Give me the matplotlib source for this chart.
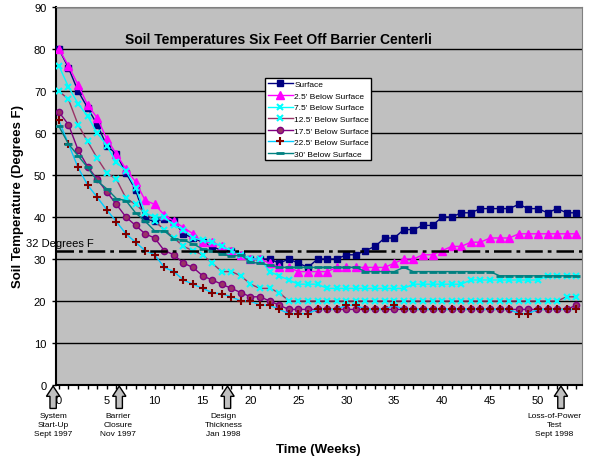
import matplotlib
matplotlib.use("Agg")
import matplotlib.pyplot as plt
import matplotlib.transforms as mtransforms
from matplotlib.patches import Polygon
import numpy as np

plt.rcParams['font.family'] = ['Liberation Sans', 'DejaVu Sans']

# weeks since start-up
weeks = list(range(0, 55))

surface = [80, 75.5, 70, 66, 62, 57, 55, 50.5, 46.5, 39.5, 39, 39.5, 39, 36, 35,
           34, 33, 32, 32, 31, 30, 30, 30, 29, 30, 29, 28, 30, 30, 30,
           31, 31, 32, 33, 35, 35, 37, 37, 38, 38, 40, 40, 41, 41, 42,
           42, 42, 42, 43, 42, 42, 41, 42, 41, 41]
d2_5 = [80, 76, 71.5, 66.7, 63.6, 58.6, 55, 51.4, 48.4, 44, 43, 40.5, 39, 37.5, 36,
        34, 34, 33, 32, 31, 30, 30, 29, 28, 28, 27, 27, 27, 27, 28,
        28, 28, 28, 28, 28, 29, 30, 30, 31, 31, 32, 33, 33, 34, 34,
        35, 35, 35, 36, 36, 36, 36, 36, 36, 36]
d7_5 = [76, 71, 67, 64, 60, 57, 53, 51, 47, 41, 40, 40, 38, 37, 35,
        34.5, 34, 33, 32, 31, 30, 30, 27, 26, 25, 24, 24, 24, 23, 23,
        23, 23, 23, 23, 23, 23, 23, 24, 24, 24, 24, 24, 24, 25, 25,
        25, 25, 25, 25, 25, 25, 26, 26, 26, 26]
d12_5 = [70, 68, 62, 58, 54, 50.5, 49, 44.5, 43, 41, 39, 37, 35, 33, 32,
         31, 29, 27, 27, 26, 24, 23, 23, 22, 20, 20, 20, 20, 20, 20,
         20, 20, 20, 20, 20, 20, 20, 20, 20, 20, 20, 20, 20, 20, 20,
         20, 20, 20, 20, 20, 20, 20, 20, 21, 21]
d17_5 = [65, 62, 56, 52, 49, 46, 43, 40, 38, 36, 35, 32, 31, 29, 28,
         26, 25, 24, 23, 22, 21, 21, 20, 19, 18, 18, 18, 18, 18, 18,
         18, 18, 18, 18, 18, 18, 18, 18, 18, 18, 18, 18, 18, 18, 18,
         18, 18, 18, 18, 18, 18, 18, 18, 18, 19]
d22_5 = [63, 57.4, 51.8, 47.6, 44.7, 41.7, 38.9, 36, 34, 32, 31, 28, 27, 25, 24,
         23, 22, 21.7, 21, 20, 20, 19, 19, 18, 17, 17, 17, 18, 18, 18,
         19, 19, 18, 18, 18, 19, 18, 18, 18, 18, 18, 18, 18, 18, 18,
         18, 18, 18, 17, 17, 18, 18, 18, 18, 18]
d30 = [61.6, 57.4, 54.6, 51.8, 48.6, 46.7, 44.4, 43.9, 41, 39, 36.7, 36.7, 34.8, 34.5, 33.6,
       32.4, 32, 31.2, 30.6, 31, 29.2, 29, 28.5, 28, 28, 28, 28, 28, 28, 28,
       28, 28, 27, 27, 27, 27, 28, 27, 27, 27, 27, 27, 27, 27, 27,
       27, 26, 26, 26, 26, 26, 26, 26, 26, 26]

series_names = ["Surface", "2.5' Below Surface", "7.5' Below Surface", "12.5' Below Surface",
                "17.5' Below Surface", "22.5' Below Surface", "30' Below Surface"]

event_weeks = [-0.6, 6.3, 17.6, 52.4]
event_text_weeks = [-0.6, 6.2, 17.2, 51.7]
event_labels = ["System\nStart-Up\nSept 1997", "Barrier\nClosure\nNov 1997",
                "Design\nThickness\nJan 1998", "Loss-of-Power\nTest\nSept 1998"]

fig = plt.figure(figsize=(5.89, 4.60), dpi=100)
ax = fig.add_axes([56 / 589, 1 - 386 / 460, (582 - 56) / 589, (386 - 8) / 460])
ax.set_facecolor('#c0c0c0')

styles = [
    dict(color='#000080', marker='s', ms=4.5, mfc='#000080', mec='#000080'),
    dict(color='#ff00ff', marker='^', ms=5.5, mfc='#ff00ff', mec='#ff00ff'),
    dict(color='#00ffff', marker='x', ms=5, mew=1.5, mec='#00ffff'),
    dict(color='#993366', marker='x', ms=5, mew=1.5, mec='#00ffff'),
    dict(color='#800080', marker='o', ms=4.5, mfc='#993366', mec='#800080'),
    dict(color='#00ccff', marker='+', ms=6, mew=1.5, mec='#800000'),
    dict(color='#008080', marker='_', ms=6, mew=2, mec='#008080'),
]
all_series = [surface, d2_5, d7_5, d12_5, d17_5, d22_5, d30]
for vals, name, st in zip(all_series, series_names, styles):
    ax.plot(weeks, vals, lw=1, label=name, zorder=3, **st)

# 32 degree line
ax.axhline(32, color='black', lw=1.8, ls=(0, (7, 2, 1.5, 2)), zorder=4)
ax.text(-3.4, 32.5, "32 Degrees F", fontsize=8, va='bottom', ha='left', clip_on=False, zorder=5)

ax.set_xlim(-0.3, 54.6)
ax.set_ylim(0, 90)
ax.set_yticks(range(0, 91, 10))
ax.set_xticks(range(0, 51, 5))
ax.set_xticks(range(0, 55), minor=True)
ax.yaxis.grid(True, color='black', lw=1)
ax.set_axisbelow(True)
ax.tick_params(axis='both', labelsize=8, direction='out', length=3, width=1)
ax.tick_params(axis='x', which='minor', length=3, width=1)
ax.tick_params(axis='x', pad=4)
ax.tick_params(axis='y', pad=4)
for s in ['left', 'bottom']:
    ax.spines[s].set_linewidth(1.5)
for s in ['top', 'right']:
    ax.spines[s].set_color('#808080')

leg = ax.legend(loc='upper left', bbox_to_anchor=(265 / 589, 1 - 79 / 460),
                bbox_transform=fig.transFigure, fontsize=6, frameon=True, fancybox=False,
                framealpha=1, edgecolor='black', borderpad=0.3, labelspacing=0.45,
                handlelength=3, handletextpad=0.2, borderaxespad=0)
leg.get_frame().set_linewidth(1)
leg.set_zorder(10)

fig.text(125 / 589, 1 - 40 / 460, "Soil Temperatures Six Feet Off Barrier Centerli",
         fontsize=10, fontweight='bold', ha='left', va='center')
fig.text(318 / 589, 1 - 450 / 460, "Time (Weeks)", fontsize=9.5, fontweight='bold',
         ha='center', va='center')
fig.text(18 / 589, 1 - 197 / 460, "Soil Temperature (Degrees F)", fontsize=9.5,
         fontweight='bold', ha='center', va='center', rotation=90)

# event arrows under the time axis
trans = mtransforms.blended_transform_factory(ax.transData, ax.transAxes)
for wk, twk, lab in zip(event_weeks, event_text_weeks, event_labels):
    pts = [(wk, -0.003), (wk + 0.7, -0.03), (wk + 0.33, -0.03), (wk + 0.33, -0.062),
           (wk - 0.33, -0.062), (wk - 0.33, -0.03), (wk - 0.7, -0.03)]
    ax.add_patch(Polygon(pts, closed=True, transform=trans, facecolor='#c0c0c0',
                         edgecolor='black', lw=1, clip_on=False, zorder=6))
    ax.text(twk, -0.072, lab, transform=trans, fontsize=6, ha='center', va='top',
            linespacing=1.35, clip_on=False)

fig.savefig("out.png", dpi=100, facecolor='white')
